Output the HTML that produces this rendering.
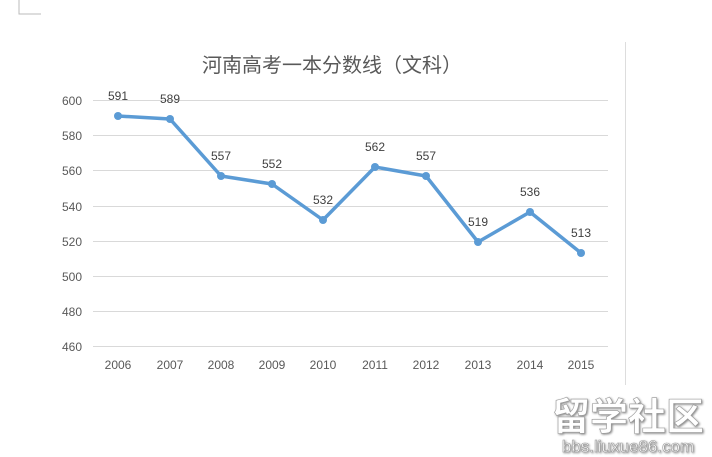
<!DOCTYPE html>
<html><head><meta charset="utf-8"><style>
body{margin:0;width:712px;height:457px;background:#fff;overflow:hidden;font-family:"Liberation Sans","Noto Sans CJK SC",sans-serif}
</style></head><body>
<svg width="712" height="457" style="position:absolute;left:0;top:0" font-family="Liberation Sans, Noto Sans CJK SC, sans-serif">
<path d="M19 0V14H41" fill="none" stroke="#bbb" stroke-width="1"/>
<line x1="625.5" y1="42" x2="625.5" y2="385" stroke="#ddd"/>
<text x="332" y="72" font-size="20" fill="#595959" text-anchor="middle" font-family="Noto Sans CJK SC, sans-serif">河南高考一本分数线（文科）</text>
<g stroke="#d9d9d9" stroke-width="1">
<line x1="93" x2="608" y1="100.5" y2="100.5"/><line x1="93" x2="608" y1="135.5" y2="135.5"/>
<line x1="93" x2="608" y1="170.5" y2="170.5"/><line x1="93" x2="608" y1="206.5" y2="206.5"/>
<line x1="93" x2="608" y1="241.5" y2="241.5"/><line x1="93" x2="608" y1="276.5" y2="276.5"/>
<line x1="93" x2="608" y1="311.5" y2="311.5"/><line x1="93" x2="608" y1="346.5" y2="346.5"/>
</g>
<g font-size="12" fill="#595959" text-anchor="end">
<text x="82" y="105">600</text><text x="82" y="140">580</text><text x="82" y="175">560</text><text x="82" y="211">540</text>
<text x="82" y="246">520</text><text x="82" y="281">500</text><text x="82" y="316">480</text><text x="82" y="351">460</text>
</g>
<g font-size="12" fill="#595959" text-anchor="middle">
<text x="118" y="369">2006</text><text x="170" y="369">2007</text><text x="221" y="369">2008</text><text x="272" y="369">2009</text><text x="323" y="369">2010</text>
<text x="375" y="369">2011</text><text x="426" y="369">2012</text><text x="478" y="369">2013</text><text x="530" y="369">2014</text><text x="581" y="369">2015</text>
</g>
<polyline fill="none" stroke="#5b9bd5" stroke-width="3.5" stroke-linejoin="round" points="118,116 170,119 221,176 272,184 323,220 375,167 426,176 478,242 530,212 581,253"/>
<g fill="#5b9bd5">
<circle cx="118" cy="116" r="4"/><circle cx="170" cy="119" r="4"/><circle cx="221" cy="176" r="4"/><circle cx="272" cy="184" r="4"/><circle cx="323" cy="220" r="4"/>
<circle cx="375" cy="167" r="4"/><circle cx="426" cy="176" r="4"/><circle cx="478" cy="242" r="4"/><circle cx="530" cy="212" r="4"/><circle cx="581" cy="253" r="4"/>
</g>
<g font-size="12" fill="#404040" text-anchor="middle">
<text x="118" y="100">591</text><text x="170" y="103">589</text><text x="221" y="160">557</text><text x="272" y="168">552</text><text x="323" y="204">532</text>
<text x="375" y="151">562</text><text x="426" y="160">557</text><text x="478" y="226">519</text><text x="530" y="196">536</text><text x="581" y="237">513</text>
</g>
<g fill="#fff" stroke="#999" stroke-width="0.6" style="filter:drop-shadow(1px 1px 1px #888)">
<text x="628" y="430" font-size="38" font-weight="bold" text-anchor="middle" font-family="Noto Sans CJK SC, sans-serif">留学社区</text>
<text x="628" y="452" font-size="17" text-anchor="middle">bbs.liuxue86.com</text>
</g>
</svg>
</body></html>
